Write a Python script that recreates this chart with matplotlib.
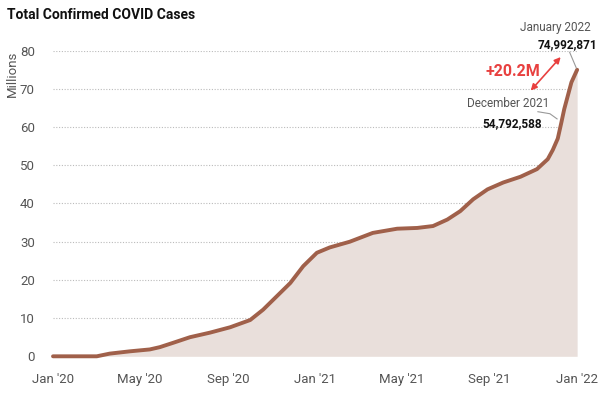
import matplotlib
matplotlib.use("Agg")
import matplotlib.pyplot as plt
import pandas as pd

# datos (millones de casos acumulados)
dates = ["2020-01-01", "2020-03-02", "2020-03-20", "2020-04-17", "2020-05-15",
         "2020-05-29", "2020-06-16", "2020-07-10", "2020-08-07", "2020-09-04",
         "2020-10-02", "2020-10-20", "2020-11-08", "2020-11-27", "2020-12-15",
         "2021-01-03", "2021-01-21", "2021-02-18", "2021-03-22", "2021-04-25",
         "2021-05-23", "2021-06-14", "2021-07-04", "2021-07-22", "2021-08-09",
         "2021-08-29", "2021-09-20", "2021-10-14", "2021-11-06", "2021-11-21",
         "2021-11-28", "2021-12-05", "2021-12-10", "2021-12-14", "2021-12-19",
         "2021-12-24", "2022-01-01"]
cases = [0.0, 0.0, 0.7, 1.3, 1.8,
         2.4, 3.5, 5.0, 6.2, 7.6,
         9.5, 12.2, 15.7, 19.2, 23.6,
         27.1, 28.5, 30.0, 32.3, 33.4,
         33.6, 34.1, 35.8, 38.0, 41.1,
         43.7, 45.5, 47.0, 49.0, 51.6,
         54.0, 57.0, 61.2, 64.7, 68.2,
         71.7, 75.0]
x_ticks = ["2020-01-01", "2020-05-01", "2020-09-01", "2021-01-01",
           "2021-05-01", "2021-09-01", "2022-01-01"]
x_tick_labels = ["Jan '20", "May '20", "Sep '20", "Jan '21", "May '21", "Sep '21", "Jan '22"]
y_ticks = [0, 10, 20, 30, 40, 50, 60, 70, 80]

plt.rcParams['font.family'] = ['Roboto', 'DejaVu Sans']

x = pd.to_datetime(dates)
gris = "#555555"
linea = "#a0604a"
relleno = "#e9dfdb"
rojo = "#e8403f"

fig = plt.figure(figsize=(5.99, 3.99), dpi=100)
ax = fig.add_axes([0.0885, 0.107, 0.875, 0.766])

ax.fill_between(x, cases, 0, color=relleno, lw=0)
ax.plot(x, cases, color=linea, lw=2.8, solid_capstyle="round",
        solid_joinstyle="round", clip_on=False)

ax.set_xlim(pd.Timestamp("2020-01-01"), pd.Timestamp("2022-01-01"))
ax.set_ylim(0, 80)
ax.set_xticks(pd.to_datetime(x_ticks))
ax.set_xticklabels(x_tick_labels)
ax.set_yticks(y_ticks)
ax.tick_params(length=0, labelsize=9.5, labelcolor=gris)
ax.tick_params(axis="y", pad=13)
ax.tick_params(axis="x", pad=12)
for s in ax.spines.values():
    s.set_visible(False)
ax.grid(axis="y", color="#bbbbbb", lw=0.8, ls=(0, (1, 1.5)))
ax.set_axisbelow(True)

fig.text(0.012, 0.962, "Total Confirmed COVID Cases", fontsize=10, fontweight="bold",
         color="#111111", va="center", ha="left")
fig.text(0.021, 0.815, "Millions", rotation=90, fontsize=9.5, color=gris,
         va="center", ha="center")

# anotaciones
fig.text(0.927, 0.93, "January 2022", fontsize=8.5, color=gris, ha="center", va="center")
fig.text(0.997, 0.887, "74,992,871", fontsize=8.5, fontweight="bold", color="#111111",
         ha="right", va="center")
fig.text(0.848, 0.741, "December 2021", fontsize=8.5, color=gris, ha="center", va="center")
fig.text(0.855, 0.691, "54,792,588", fontsize=8.5, fontweight="bold", color="#111111",
         ha="center", va="center")
fig.text(0.857, 0.822, "+20.2M", fontsize=11.5, fontweight="bold", color=rojo,
         ha="center", va="center")

ax.annotate("", xy=(0.936, 0.857), xytext=(0.886, 0.773), xycoords="figure fraction",
            textcoords="figure fraction",
            arrowprops=dict(arrowstyle="<|-|>", color=rojo, lw=1.2,
                            mutation_scale=9, shrinkA=0, shrinkB=0))
ax.plot([0.951, 0.962], [0.869, 0.83], color="#999999", lw=0.8, transform=fig.transFigure,
        clip_on=False)
ax.plot([0.898, 0.918, 0.93], [0.72, 0.715, 0.702], color="#999999", lw=0.8,
        transform=fig.transFigure, clip_on=False)

fig.savefig("out.png", dpi=100)
